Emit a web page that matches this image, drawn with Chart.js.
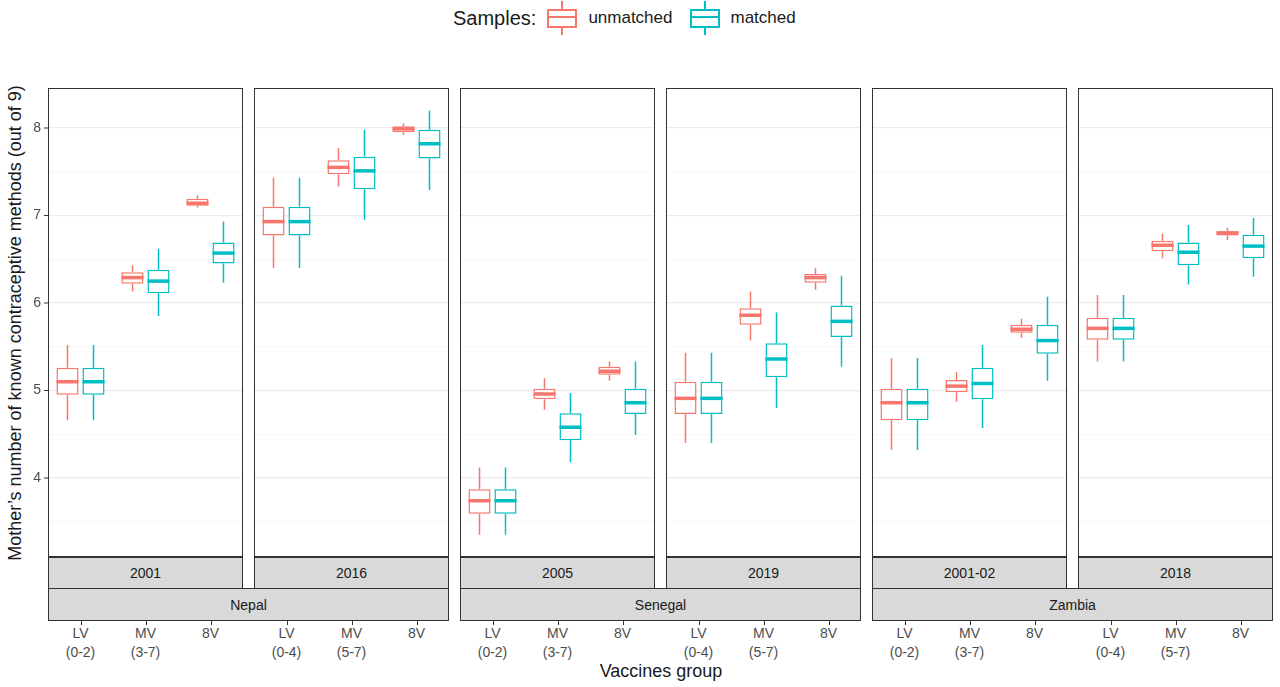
<!DOCTYPE html>
<html>
<head>
<meta charset="utf-8">
<script src="https://cdn.jsdelivr.net/npm/chart.js@4"></script>
<style>
  body { margin:0; width:1280px; height:687px; background:#fff; font-family:"Liberation Sans", Arial, sans-serif; position:relative; overflow:hidden; }
  .abs { position:absolute; }
  canvas { position:absolute; }
  .strip { position:absolute; background:#d9d9d9; border:1px solid #333; box-sizing:border-box; font-size:14px; color:#1a1a1a; text-align:center; }
  .tick { position:absolute; font-size:14px; color:#4d4d4d; text-align:center; width:60px; line-height:19px; }
  .tickmark { position:absolute; width:1px; height:4px; background:#333; top:621px; }
  .key { display:inline-block; width:36px; height:26px; position:relative; }
</style>
</head>
<body>
<div class="abs" style="left:453px;top:5px;font-size:20px;color:#1a1a1a;display:flex;align-items:center;">
  <span>Samples:</span>
  <span class="key" style="margin-left:8px;">
    <span class="abs" style="left:17px;top:-4px;width:2px;height:34px;background:#F8766D"></span>
    <span class="abs" style="left:3px;top:4px;width:26px;height:15px;border:2px solid #F8766D;background:#fff"></span>
    <span class="abs" style="left:3px;top:11px;width:30px;height:2px;background:#F8766D"></span>
  </span>
  <span style="margin-left:8px;font-size:17px">unmatched</span>
  <span class="key" style="margin-left:14px;">
    <span class="abs" style="left:17px;top:-4px;width:2px;height:34px;background:#00BFC4"></span>
    <span class="abs" style="left:3px;top:4px;width:26px;height:15px;border:2px solid #00BFC4;background:#fff"></span>
    <span class="abs" style="left:3px;top:11px;width:30px;height:2px;background:#00BFC4"></span>
  </span>
  <span style="margin-left:8px;font-size:17px">matched</span>
</div>
<div class="abs" style="left:15px;top:323px;transform:translate(-50%,-50%) rotate(-90deg);white-space:nowrap;font-size:18px;color:#1a1a1a;">Mother’s number of known contraceptive methods (out of 9)</div>
<div class="abs" style="left:661px;top:661px;transform:translateX(-50%);font-size:18px;color:#1a1a1a;">Vaccines group</div>
<div id="wrap"></div>
<script>
// panel labels
var years = ['2001', '2016', '2005', '2019', '2001-02', '2018'];
var countries = ['Nepal', 'Senegal', 'Zambia'];
var groups = [['LV', '(0-2)'], ['MV', '(3-7)'], ['8V', ''], ['LV', '(0-4)'], ['MV', '(5-7)'], ['8V', ''],
              ['LV', '(0-2)'], ['MV', '(3-7)'], ['8V', ''], ['LV', '(0-4)'], ['MV', '(5-7)'], ['8V', ''],
              ['LV', '(0-2)'], ['MV', '(3-7)'], ['8V', ''], ['LV', '(0-4)'], ['MV', '(5-7)'], ['8V', '']];
var yTicks = [3.5, 4, 4.5, 5, 5.5, 6, 6.5, 7, 7.5, 8];

// [low whisker, q1, median, q3, high whisker] per group, per panel
var unmatched = [
  [[4.66, 4.95, 5.10, 5.26, 5.52], [6.13, 6.22, 6.29, 6.35, 6.43], [7.09, 7.11, 7.14, 7.19, 7.23]],
  [[6.40, 6.77, 6.93, 7.10, 7.43], [7.33, 7.47, 7.55, 7.63, 7.77], [7.92, 7.95, 7.99, 8.02, 8.05]],
  [[3.35, 3.59, 3.74, 3.87, 4.12], [4.78, 4.90, 4.96, 5.02, 5.14], [5.11, 5.18, 5.22, 5.27, 5.33]],
  [[4.40, 4.73, 4.91, 5.10, 5.43], [5.57, 5.75, 5.86, 5.94, 6.13], [6.15, 6.23, 6.29, 6.33, 6.40]],
  [[4.32, 4.66, 4.86, 5.02, 5.37], [4.87, 4.98, 5.05, 5.12, 5.21], [5.60, 5.66, 5.70, 5.75, 5.82]],
  [[5.33, 5.58, 5.71, 5.83, 6.09], [6.51, 6.59, 6.66, 6.71, 6.79], [6.72, 6.77, 6.80, 6.82, 6.86]]
];
var matched = [
  [[4.66, 4.95, 5.10, 5.26, 5.52], [5.85, 6.11, 6.25, 6.38, 6.62], [6.23, 6.45, 6.57, 6.69, 6.93]],
  [[6.40, 6.77, 6.93, 7.10, 7.43], [6.95, 7.30, 7.51, 7.67, 7.98], [7.29, 7.65, 7.82, 7.98, 8.20]],
  [[3.35, 3.59, 3.74, 3.87, 4.12], [4.18, 4.43, 4.58, 4.74, 4.97], [4.49, 4.73, 4.86, 5.02, 5.33]],
  [[4.40, 4.73, 4.91, 5.10, 5.43], [4.80, 5.15, 5.36, 5.54, 5.89], [5.27, 5.61, 5.79, 5.97, 6.31]],
  [[4.32, 4.66, 4.86, 5.02, 5.37], [4.57, 4.90, 5.08, 5.26, 5.52], [5.11, 5.42, 5.57, 5.75, 6.07]],
  [[5.33, 5.58, 5.71, 5.83, 6.09], [6.21, 6.43, 6.58, 6.69, 6.89], [6.30, 6.51, 6.65, 6.78, 6.97]]
];

var RED = '#F8766D', CYAN = '#00BFC4';
var wrap = document.getElementById('wrap');
var PANEL_W = 195, GAP = 11, LEFT = 48, TOP = 88, H = 469;

// whiskers, medians, panel frame and (first panel) tick labels
var boxPlugin = {
  id: 'box',
  afterDatasetsDraw: function (chart, args, opts) {
    var ctx = chart.ctx, y = chart.scales.y;
    chart.data.datasets.forEach(function (ds, di) {
      var meta = chart.getDatasetMeta(di);
      meta.data.forEach(function (bar, i) {
        var s = ds.stats[i];
        ctx.save();
        ctx.strokeStyle = ds.borderColor;
        ctx.lineWidth = 1.5;
        ctx.beginPath();
        ctx.moveTo(bar.x, y.getPixelForValue(s[3]));
        ctx.lineTo(bar.x, y.getPixelForValue(s[4]));
        ctx.moveTo(bar.x, y.getPixelForValue(s[1]));
        ctx.lineTo(bar.x, y.getPixelForValue(s[0]));
        ctx.stroke();
        ctx.lineWidth = 3.5;
        ctx.beginPath();
        ctx.moveTo(bar.x - bar.width / 2, y.getPixelForValue(s[2]));
        ctx.lineTo(bar.x + bar.width / 2, y.getPixelForValue(s[2]));
        ctx.stroke();
        ctx.restore();
      });
    });
    var a = chart.chartArea;
    ctx.save();
    ctx.strokeStyle = '#333';
    ctx.lineWidth = 1;
    ctx.strokeRect(a.left + 0.5, a.top + 0.5, a.right - a.left - 1, a.bottom - a.top - 1);
    if (opts.labels) {
      ctx.fillStyle = '#4d4d4d';
      ctx.font = '14px "Liberation Sans"';
      ctx.textAlign = 'right';
      ctx.textBaseline = 'middle';
      yTicks.forEach(function (v) {
        if (!Number.isInteger(v)) return;
        var py = y.getPixelForValue(v);
        ctx.fillText(String(v), a.left - 7, py);
        ctx.beginPath();
        ctx.moveTo(a.left - 4, py);
        ctx.lineTo(a.left, py);
        ctx.stroke();
      });
    }
    ctx.restore();
  }
};

years.forEach(function (yr, p) {
  var x0 = LEFT + p * (PANEL_W + GAP);
  var first = p === 0;
  var c = document.createElement('canvas');
  var cw = first ? PANEL_W + 30 : PANEL_W;
  c.style.left = (first ? x0 - 30 : x0) + 'px';
  c.style.top = TOP + 'px';
  c.style.width = cw + 'px';
  c.style.height = H + 'px';
  wrap.appendChild(c);

  var labels = groups.slice(p * 3, p * 3 + 3).map(function (g) { return g[0]; });
  function mk(name, color, stats) {
    return {
      label: name,
      data: stats.map(function (s) { return [s[1], s[3]]; }),
      stats: stats,
      backgroundColor: '#fff',
      borderColor: color,
      borderWidth: 1.5,
      borderSkipped: false,
      categoryPercentage: 0.8,
      barPercentage: 0.85
    };
  }
  new Chart(c, {
    type: 'bar',
    data: { labels: labels, datasets: [mk('unmatched', RED, unmatched[p]), mk('matched', CYAN, matched[p])] },
    options: {
      responsive: false, animation: false, devicePixelRatio: 1,
      layout: { padding: { left: first ? 30 : 0, right: 0, top: 0, bottom: 0 } },
      plugins: { legend: { display: false }, tooltip: { enabled: false }, box: { labels: first } },
      scales: {
        x: { display: false },
        y: {
          min: 3.097, max: 8.457,
          afterBuildTicks: function (s) { s.ticks = yTicks.map(function (v) { return { value: v }; }); },
          afterFit: function (s) { s.width = 0; },
          border: { display: false },
          grid: {
            drawTicks: false,
            color: function (ctx) { return Number.isInteger(ctx.tick.value) ? '#ebebeb' : '#f5f5f5'; },
            lineWidth: function (ctx) { return Number.isInteger(ctx.tick.value) ? 1.2 : 0.8; }
          },
          ticks: { display: false }
        }
      }
    },
    plugins: [boxPlugin]
  });

  var st = document.createElement('div');
  st.className = 'strip';
  st.style.cssText = 'left:' + x0 + 'px;top:557px;width:' + PANEL_W + 'px;height:32px;line-height:31px;';
  st.textContent = yr;
  wrap.appendChild(st);

  for (var g = 0; g < 3; g++) {
    var cx = x0 + PANEL_W * (2 * g + 1) / 6;
    var t = document.createElement('div');
    t.className = 'tick';
    t.style.left = (cx - 30) + 'px';
    t.style.top = '624px';
    var gg = groups[p * 3 + g];
    t.innerHTML = gg[0] + '<br>' + gg[1];
    wrap.appendChild(t);
    var m = document.createElement('div');
    m.className = 'tickmark';
    m.style.left = Math.round(cx) + 'px';
    wrap.appendChild(m);
  }
});

countries.forEach(function (cn, i) {
  var x0 = LEFT + i * 2 * (PANEL_W + GAP);
  var st = document.createElement('div');
  st.className = 'strip';
  st.style.cssText = 'left:' + x0 + 'px;top:588px;width:' + (2 * PANEL_W + GAP) + 'px;height:33px;line-height:32px;';
  st.textContent = cn;
  wrap.appendChild(st);
});
</script>
</body>
</html>
